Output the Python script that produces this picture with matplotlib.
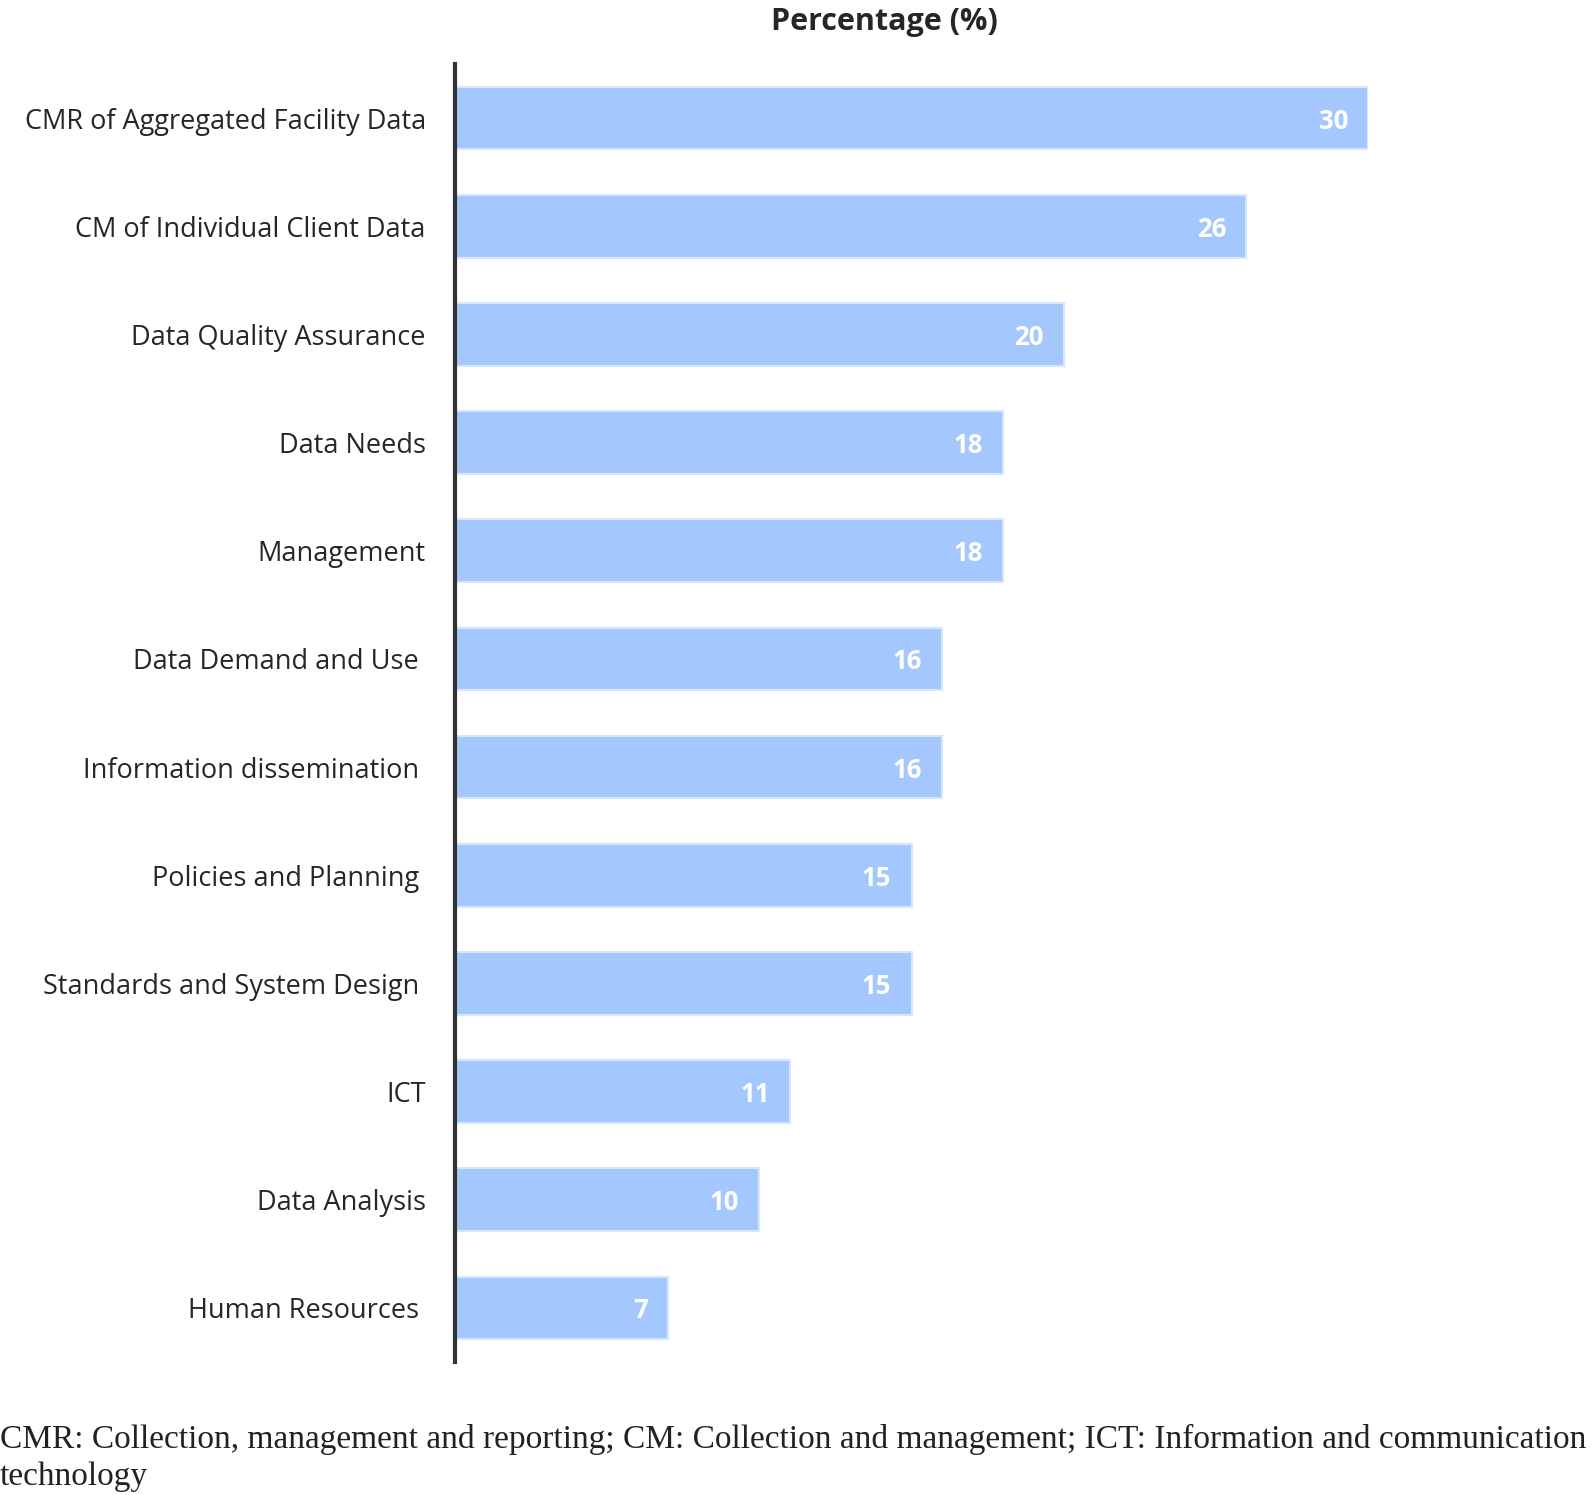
import matplotlib
matplotlib.use("Agg")
from matplotlib import pyplot as plt

categories = ['CMR of Aggregated Facility Data', 'CM of Individual Client Data', 'Data Quality Assurance',
              'Data Needs', 'Management', 'Data Demand and Use ', 'Information dissemination ',
              'Policies and Planning ', 'Standards and System Design ', 'ICT', 'Data Analysis',
              'Human Resources ']
values = [30, 26, 20, 18, 18, 16, 16, 15, 15, 11, 10, 7]

caption = ("CMR: Collection, management and reporting; CM: Collection and management; ICT: Information and communication\n"
           "technology")

fig = plt.figure(figsize=(15.94, 14.95), dpi=100)
ax = fig.add_axes([455 / 1594, 1 - 1362 / 1495, (1368 - 455) / 1594, (1362 - 64) / 1495])

ypos = list(range(len(categories)))
bars = ax.barh(ypos, values, height=0.58, color='#a4c8fd', edgecolor='#d6e6fd', linewidth=1.5, zorder=2)

for y, v in zip(ypos, values):
    ax.annotate(str(v), xy=(v, y), xytext=(-20, 0), textcoords='offset pixels',
                ha='right', va='center_baseline', color='white', fontsize=18.5, fontweight='bold',
                family='Open Sans')

ax.set_xlim(0, 30)
ax.set_ylim(len(categories) - 0.5, -0.5)
ax.set_xticks([])
ax.set_yticks(ypos)
ax.set_yticklabels(categories, fontsize=19.5, family='Open Sans', color='#262626')
ax.tick_params(axis='y', length=0, pad=21)

for s in ['top', 'right', 'bottom']:
    ax.spines[s].set_visible(False)
ax.spines['left'].set_linewidth(3)
ax.spines['left'].set_color('#333333')

fig.text(884 / 1594, 1 - 22 / 1495, 'Percentage (%)', ha='center', va='center', fontsize=22,
         fontweight='bold', family='Open Sans', color='#262626')

fig.text(0.0, 1 - 1485 / 1495, caption, ha='left', va='baseline', fontsize=24, family='Liberation Serif',
         color='#222222', linespacing=1.28)

fig.savefig('out.png', dpi=100)
